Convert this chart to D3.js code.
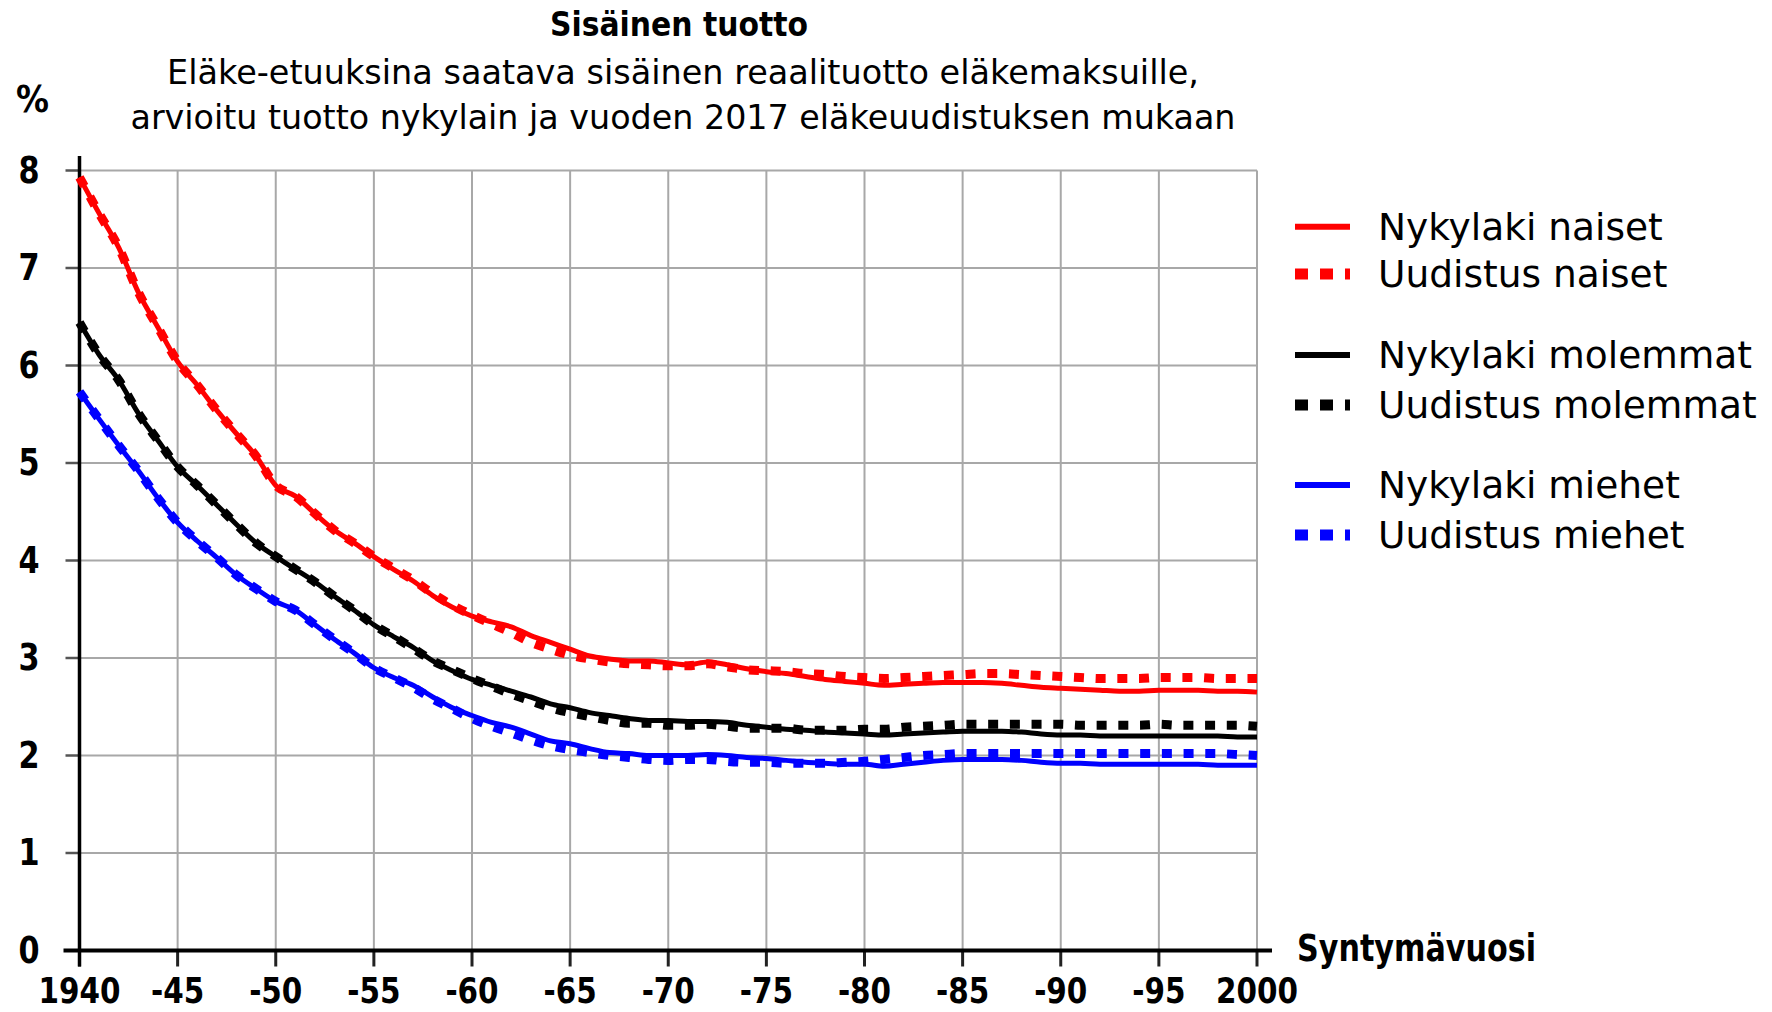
<!DOCTYPE html>
<html><head><meta charset="utf-8">
<script src="https://cdn.jsdelivr.net/npm/d3@7/dist/d3.min.js"></script>
<style>body{margin:0;background:#fff} svg{display:block}</style>
</head><body>
<svg id="c" width="1772" height="1012"></svg>
<script>
// ---- data ----
const years = d3.range(1940, 2001);
const nykylakiNaiset = [7.93,7.56,7.21,6.75,6.39,6.04,5.80,5.54,5.30,5.07,4.77,4.66,4.48,4.31,4.18,4.04,3.91,3.79,3.64,3.52,3.43,3.37,3.32,3.23,3.16,3.09,3.02,2.99,2.97,2.97,2.95,2.93,2.96,2.93,2.89,2.86,2.84,2.81,2.78,2.76,2.74,2.72,2.73,2.74,2.75,2.75,2.75,2.74,2.72,2.70,2.69,2.68,2.67,2.66,2.66,2.67,2.67,2.67,2.66,2.66,2.65];
const uudistusNaiset = [7.93,7.56,7.21,6.75,6.39,6.04,5.80,5.54,5.30,5.07,4.77,4.66,4.48,4.31,4.18,4.04,3.92,3.80,3.66,3.54,3.44,3.35,3.26,3.16,3.09,3.03,2.99,2.96,2.94,2.93,2.92,2.92,2.94,2.91,2.88,2.87,2.86,2.84,2.83,2.81,2.80,2.79,2.80,2.81,2.82,2.83,2.84,2.84,2.83,2.82,2.81,2.80,2.79,2.79,2.79,2.80,2.80,2.80,2.79,2.79,2.79];
const nykylakiMolemmat = [6.44,6.11,5.85,5.51,5.23,4.96,4.77,4.57,4.37,4.18,4.04,3.91,3.78,3.63,3.49,3.34,3.22,3.11,2.97,2.87,2.78,2.72,2.66,2.60,2.53,2.49,2.44,2.41,2.38,2.36,2.36,2.35,2.35,2.34,2.31,2.29,2.27,2.26,2.24,2.23,2.22,2.21,2.22,2.23,2.24,2.25,2.25,2.25,2.24,2.22,2.21,2.21,2.20,2.20,2.20,2.20,2.20,2.20,2.20,2.19,2.19];
const uudistusMolemmat = [6.44,6.11,5.85,5.51,5.23,4.96,4.77,4.57,4.37,4.18,4.04,3.91,3.78,3.63,3.49,3.34,3.22,3.10,2.97,2.88,2.79,2.71,2.63,2.56,2.49,2.44,2.40,2.36,2.33,2.33,2.31,2.31,2.32,2.30,2.28,2.28,2.28,2.26,2.26,2.26,2.27,2.27,2.29,2.30,2.31,2.32,2.32,2.32,2.32,2.32,2.32,2.31,2.31,2.31,2.31,2.32,2.31,2.31,2.31,2.31,2.30];
const nykylakiMiehet = [5.73,5.45,5.18,4.92,4.64,4.39,4.20,4.03,3.85,3.71,3.58,3.49,3.34,3.19,3.05,2.90,2.80,2.72,2.60,2.49,2.41,2.34,2.29,2.22,2.15,2.12,2.07,2.03,2.02,2.00,2.00,2.00,2.01,2.00,1.98,1.97,1.95,1.93,1.92,1.91,1.91,1.89,1.91,1.93,1.95,1.96,1.96,1.96,1.95,1.93,1.92,1.92,1.91,1.91,1.91,1.91,1.91,1.91,1.90,1.90,1.90];
const uudistusMiehet = [5.73,5.45,5.18,4.92,4.64,4.39,4.20,4.03,3.85,3.71,3.58,3.49,3.34,3.19,3.05,2.90,2.80,2.70,2.58,2.48,2.38,2.30,2.23,2.16,2.10,2.06,2.03,2.00,1.98,1.96,1.95,1.96,1.96,1.94,1.93,1.93,1.92,1.92,1.92,1.93,1.94,1.96,1.98,2.00,2.01,2.02,2.02,2.02,2.02,2.02,2.02,2.02,2.02,2.02,2.02,2.02,2.02,2.02,2.02,2.01,2.00];

const xTickValues = [1940,1945,1950,1955,1960,1965,1970,1975,1980,1985,1990,1995,2000];
const xTickLabels = ["1940","-45","-50","-55","-60","-65","-70","-75","-80","-85","-90","-95","2000"];
const yTickValues = [0,1,2,3,4,5,6,7,8];

const titleText = "Sisäinen tuotto";
const subtitleLines = ["Eläke-etuuksina saatava sisäinen reaalituotto eläkemaksuille,",
                       "arvioitu tuotto nykylain ja vuoden 2017 eläkeuudistuksen mukaan"];
const yUnit = "%";
const xTitle = "Syntymävuosi";

const seriesNames = ["Nykylaki naiset","Uudistus naiset","Nykylaki molemmat","Uudistus molemmat","Nykylaki miehet","Uudistus miehet"];
const seriesValues = [nykylakiNaiset,uudistusNaiset,nykylakiMolemmat,uudistusMolemmat,nykylakiMiehet,uudistusMiehet];
const seriesColors = ["#ff0000","#ff0000","#000000","#000000","#0000ff","#0000ff"];
const seriesDotted = [false,true,false,true,false,true];

// ---- layout ----
const FONT = "'DejaVu Sans', Verdana, sans-serif";
const svg = d3.select("#c");
const x = d3.scaleLinear().domain([1940,2000]).range([79.5,1257]);
const y = d3.scaleLinear().domain([0,8]).range([950.5,170.5]);

function condenseTo(sel, target){
  sel.each(function(){
    const w = this.getComputedTextLength();
    if (Math.abs(w-target) > 1) d3.select(this).attr("textLength", target).attr("lengthAdjust","spacingAndGlyphs");
  });
}
function condenseBy(sel, k){
  sel.each(function(){
    const w = this.getComputedTextLength();
    d3.select(this).attr("textLength", w*k).attr("lengthAdjust","spacingAndGlyphs");
  });
}

// grid
const g = svg.append("g");
g.selectAll("line.hg").data(yTickValues.filter(v=>v>0)).join("line")
  .attr("x1", x(1940)).attr("x2", x(2000))
  .attr("y1", d=>y(d)).attr("y2", d=>y(d))
  .attr("stroke","#a8a8a8").attr("stroke-width",2);
g.selectAll("line.vg").data(xTickValues.filter(v=>v>1940)).join("line")
  .attr("x1", d=>x(d)).attr("x2", d=>x(d))
  .attr("y1", y(8)).attr("y2", y(0))
  .attr("stroke","#a8a8a8").attr("stroke-width",2);

// y ticks (left)
g.selectAll("line.yt").data(yTickValues).join("line")
  .attr("x1", x(1940)-14).attr("x2", x(1940))
  .attr("y1", d=>y(d)).attr("y2", d=>y(d))
  .attr("stroke","#555").attr("stroke-width",2.5);
// x ticks (down)
g.selectAll("line.xt").data(xTickValues).join("line")
  .attr("x1", d=>x(d)).attr("x2", d=>x(d))
  .attr("y1", y(0)).attr("y2", y(0)+16)
  .attr("stroke","#222").attr("stroke-width",3);

// axes
svg.append("line").attr("x1", x(1940)).attr("x2", x(1940)).attr("y1", 156).attr("y2", y(0)+16)
  .attr("stroke","#000").attr("stroke-width",3.5);
svg.append("line").attr("x1", x(1940)-16).attr("x2", x(2000)+15).attr("y1", y(0)).attr("y2", y(0))
  .attr("stroke","#000").attr("stroke-width",4);

// series
const line = d3.line().x((d,i)=>x(years[i])).y(d=>y(d)).curve(d3.curveMonotoneX);
const order = [0,2,4,1,3,5];
order.forEach(i=>{
  svg.append("path").attr("d", line(seriesValues[i]))
    .attr("fill","none").attr("stroke", seriesColors[i])
    .attr("stroke-width", seriesDotted[i] ? 9 : 5)
    .attr("stroke-dasharray", seriesDotted[i] ? "10,11.7" : null)
    .attr("stroke-linejoin","round");
});

// tick labels
const xl = svg.selectAll("text.xl").data(xTickValues).join("text")
  .attr("x", d=>x(d)).attr("y", 1003).attr("text-anchor","middle")
  .attr("font-family", FONT).attr("font-weight","bold").attr("font-size",36)
  .text((d,i)=>xTickLabels[i]);
let kTick = 1;
xl.filter((d,i)=>i===0).each(function(){ kTick = 82/this.getComputedTextLength(); });
condenseBy(xl, kTick);

const yl = svg.selectAll("text.yl").data(yTickValues).join("text")
  .attr("x", 29).attr("y", d=>y(d)+12).attr("text-anchor","middle")
  .attr("font-family", FONT).attr("font-weight","bold").attr("font-size",37)
  .text(d=>d);
condenseBy(yl, kTick);

// unit and axis title
const pct = svg.append("text").attr("x",16).attr("y",112)
  .attr("font-family",FONT).attr("font-weight","bold").attr("font-size",38).text(yUnit);
condenseTo(pct, 33);
const xt = svg.append("text").attr("x",1297).attr("y",961)
  .attr("font-family",FONT).attr("font-weight","bold").attr("font-size",37).text(xTitle);
condenseTo(xt, 239);

// titles
const t = svg.append("text").attr("x",679).attr("y",36).attr("text-anchor","middle")
  .attr("font-family",FONT).attr("font-weight","bold").attr("font-size",33).text(titleText);
condenseTo(t, 258);
const subTargets = [1032, 1105];
const subBase = [84, 129];
subtitleLines.forEach((s,i)=>{
  const st = svg.append("text").attr("x",683).attr("y",subBase[i]).attr("text-anchor","middle")
    .attr("font-family",FONT).attr("font-size",34).text(s);
  condenseTo(st, subTargets[i]);
});

// legend
const legendRows = [226.7, 274, 355, 405, 485, 535];
const lg = svg.append("g");
seriesNames.forEach((name,i)=>{
  const cy = legendRows[i];
  lg.append("line").attr("x1",1295).attr("x2",1350).attr("y1",cy).attr("y2",cy)
    .attr("stroke", seriesColors[i])
    .attr("stroke-width", seriesDotted[i] ? 11 : 6)
    .attr("stroke-dasharray", seriesDotted[i] ? "13,12" : null);
  lg.append("text").attr("x",1378).attr("y",cy+13)
    .attr("font-family",FONT).attr("font-size",37.5).attr("fill","#000").text(name);
});
</script>
</body></html>
